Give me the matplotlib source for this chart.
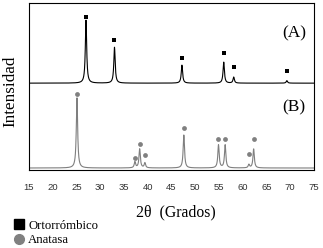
import numpy as np
import matplotlib
matplotlib.use("Agg")
import matplotlib.pyplot as plt
from matplotlib.lines import Line2D

# Pattern (A) - Ortorrombico
peaks_a_pos = [27.0, 33.0, 47.2, 56.0, 58.1, 69.3]
peaks_a_int = [37.7, 21.5, 10.8, 12.6, 3.6, 1.5]
marks_a_y = [91.6, 77.8, 67.1, 70.1, 61.7, 59.3]
offset_a = 52.0

# Pattern (B) - Anatasa
peaks_b_pos = [25.1, 37.3, 38.3, 39.4, 47.6, 54.9, 56.3, 61.3, 62.3]
peaks_b_int = [42.0, 3.6, 11.4, 3.0, 19.8, 13.8, 13.8, 2.0, 11.4]
marks_b_y = [45.5, 7.4, 15.6, 9.0, 25.1, 18.6, 18.6, 9.6, 18.6]
offset_b = 1.2

xticks = [15, 20, 25, 30, 35, 40, 45, 50, 55, 60, 65, 70, 75]

def profile(x, pos, amp, w=0.17):
    y = np.zeros_like(x)
    for p, a in zip(pos, amp):
        y += a * w**2 / ((x - p)**2 + w**2)
    return y

x = np.linspace(15, 75, 3000)
ya = offset_a + profile(x, peaks_a_pos, peaks_a_int)
yb = offset_b + profile(x, peaks_b_pos, peaks_b_int)

fig = plt.figure(figsize=(3.23, 2.48), dpi=100)
ax = fig.add_axes([0.0898, 0.3145, 0.8822, 0.6735])
ax.plot(x, ya, color="black", lw=0.8)
ax.plot(x, yb, color="#7f7f7f", lw=0.8)
ax.scatter(peaks_a_pos, marks_a_y, marker="s", s=10, color="black", zorder=3, linewidths=0)
ax.scatter(peaks_b_pos, marks_b_y, marker="o", s=12, color="#808080", zorder=3, linewidths=0)

ax.set_xlim(15, 75)
ax.set_ylim(0, 100)
ax.set_yticks([])
ax.set_xticks(xticks)
ax.set_xticklabels([str(t) for t in xticks], fontfamily="Liberation Sans", fontsize=6.8, color="#333333")
ax.tick_params(axis="x", length=0, pad=9.5)
for s in ax.spines.values():
    s.set_linewidth(0.8)

serif = "Liberation Serif"
ax.text(0.93, 0.82, "(A)", transform=ax.transAxes, ha="center", va="center", fontfamily=serif, fontsize=12.5)
ax.text(0.93, 0.372, "(B)", transform=ax.transAxes, ha="center", va="center", fontfamily=serif, fontsize=12.5)
ax.set_ylabel("Intensidad", fontfamily=serif, fontsize=12.3)
ax.yaxis.set_label_coords(-0.036, 0.47)
fig.text(0.543, (248 - 212) / 248, "2θ  (Grados)", ha="center", va="center", fontfamily=serif, fontsize=11.3)

handles = [Line2D([], [], marker="s", ls="", color="black", markersize=6.5),
           Line2D([], [], marker="o", ls="", color="#808080", markersize=7)]
fig.legend(handles, ["Ortorrómbico", "Anatasa"], loc="lower left", bbox_to_anchor=(0.0415, 0.008),
           frameon=False, prop={"family": serif, "size": 9.2}, handletextpad=0.35,
           labelspacing=0.17, handlelength=0.8, borderaxespad=0, borderpad=0)

fig.savefig("out.png", dpi=100)
